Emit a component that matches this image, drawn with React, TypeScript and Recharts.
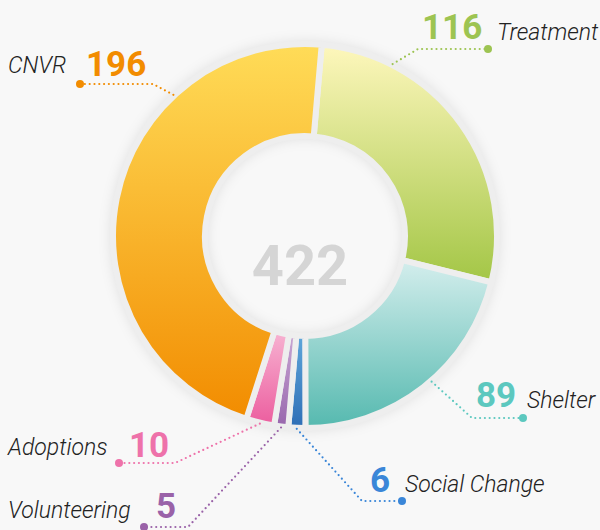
import { PieChart, Pie, Cell, Label } from 'recharts';

const categories = ['Treatment', 'Shelter', 'Social Change', 'Volunteering', 'Adoptions', 'CNVR'];
const values = [116, 89, 6, 5, 10, 196];

// gradient top / bottom per slice, and the accent used for number + leader
const gradTop = ['#FEF7BC', '#D4EEED', '#5FA6DA', '#C8A6D3', '#F7B3D2', '#FFDC58'];
const gradBottom = ['#A3C646', '#55B9AF', '#2E6EB6', '#9866AD', '#EC5D9E', '#F28C00'];
const accent = ['#9DC452', '#5CC8BF', '#3A86D8', '#9A62A8', '#EE72AA', '#F28C00'];

// label layout: anchor angle on the ring (null = slice middle), elbow, end dot, text spots
const labelLayout = [
  { angle: 63, elbow: [418, 49], dot: [488, 49], num: [422, 39], name: [497, 40] },
  { angle: -49, elbow: [472, 418], dot: [523, 418], num: [476, 407], name: [527, 408] },
  { angle: null, elbow: [362, 501], dot: [402, 501], num: [370, 492], name: [405, 492] },
  { angle: null, elbow: [188, 527], dot: [144, 527], num: [156, 518], name: [8, 518] },
  { angle: null, elbow: [175, 463], dot: [119, 463], num: [129, 457], name: [8, 455] },
  { angle: 133, elbow: [153, 84], dot: [80, 84], num: [86, 76], name: [8, 73] },
];

const data = categories.map((name, i) => ({ name, value: values[i] }));
const total = values.reduce((a, b) => a + b, 0);

const RAD = Math.PI / 180;
const FONT = 'Roboto, "Noto Sans", sans-serif';

function renderLabel(props: any) {
  const { cx, cy, midAngle, outerRadius, index, value, name } = props;
  const lay = labelLayout[index];
  const ang = lay.angle == null ? midAngle : lay.angle;
  const r = outerRadius + 1;
  const sx = cx + r * Math.cos(ang * RAD);
  const sy = cy - r * Math.sin(ang * RAD);
  const c = accent[index];
  return (
    <g key={`lbl-${index}`}>
      <polyline
        points={`${sx},${sy} ${lay.elbow[0]},${lay.elbow[1]} ${lay.dot[0]},${lay.dot[1]}`}
        fill="none"
        stroke={c}
        strokeWidth={2.2}
        strokeLinecap="round"
        strokeDasharray="0 4.8"
      />
      <circle cx={lay.dot[0]} cy={lay.dot[1]} r={4} fill={c} />
      <text x={lay.num[0]} y={lay.num[1]} fill={c} fontSize={35} fontWeight={700} fontFamily={FONT}>
        {value}
      </text>
      <text
        x={lay.name[0]}
        y={lay.name[1]}
        fill="#222"
        fontSize={23}
        fontWeight={300}
        fontStyle="italic"
        fontFamily={FONT}
      >
        {name}
      </text>
    </g>
  );
}

export default function App() {
  return (
    <div style={{ position: 'absolute', left: 0, top: 0, width: 600, height: 530, background: '#F8F8F8' }}>
      <PieChart width={600} height={530} margin={{ top: 0, right: 0, bottom: 0, left: 0 }}>
        <defs>
          <filter id="ringBlur" x="-30%" y="-30%" width="160%" height="160%">
            <feGaussianBlur stdDeviation="7" />
          </filter>
          {categories.map((_, i) => (
            <linearGradient key={i} id={`grad${i}`} x1="0" y1="0" x2="0" y2="1">
              <stop offset="0%" stopColor={gradTop[i]} />
              <stop offset="100%" stopColor={gradBottom[i]} />
            </linearGradient>
          ))}
        </defs>
        <Pie
          data={[{ name: 'shadow', value: 1 }]}
          dataKey="value"
          cx={305}
          cy={236}
          innerRadius={99}
          outerRadius={193}
          startAngle={90}
          endAngle={-270}
          stroke="none"
          isAnimationActive={false}
          legendType="none"
        >
          <Cell fill="#000" fillOpacity={0.12} filter="url(#ringBlur)" />
        </Pie>
        <Pie
          data={data}
          dataKey="value"
          nameKey="name"
          cx={305}
          cy={236}
          innerRadius={100}
          outerRadius={192}
          startAngle={85}
          endAngle={-275}
          paddingAngle={0}
          isAnimationActive={false}
          label={renderLabel}
          labelLine={false}
        >
          {data.map((_, i) => (
            <Cell key={i} fill={`url(#grad${i})`} stroke="#EEEEEE" strokeWidth={6} />
          ))}
          <Label
            value={String(total)}
            position="center"
            fill="#D5D5D5"
            fontSize={56}
            fontWeight={700}
            fontFamily={FONT}
          />
        </Pie>
      </PieChart>
    </div>
  );
}
